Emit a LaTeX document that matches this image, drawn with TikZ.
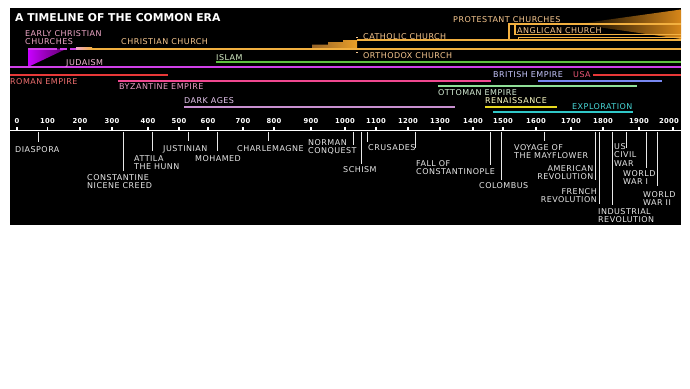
\documentclass[tikz,border=0pt]{standalone}
\usepackage{fontspec}
\setmainfont{DejaVu Sans}
\newfontfamily\labfont[LetterSpace=6]{DejaVu Sans}
\newfontfamily\axfont[LetterSpace=4]{DejaVu Sans}
\newfontfamily\ttlfont{DejaVu Sans}
\definecolor{chline}{HTML}{F2B040}
\definecolor{chtext}{HTML}{F8C890}
\definecolor{ecpink}{HTML}{F0A8C8}
\definecolor{judline}{HTML}{D040E8}
\definecolor{judtext}{HTML}{F8C0D8}
\definecolor{romline}{HTML}{E83838}
\definecolor{romtext}{HTML}{F07070}
\definecolor{byzline}{HTML}{F04890}
\definecolor{byztext}{HTML}{F0A0C8}
\definecolor{islline}{HTML}{60C040}
\definecolor{isltext}{HTML}{D8F0C8}
\definecolor{briline}{HTML}{7888F0}
\definecolor{britext}{HTML}{C8C8FF}
\definecolor{usatext}{HTML}{F05878}
\definecolor{ottline}{HTML}{90E098}
\definecolor{otttext}{HTML}{D8F0D8}
\definecolor{renline}{HTML}{E8D820}
\definecolor{rentext}{HTML}{FFFFC8}
\definecolor{expline}{HTML}{30C8C8}
\definecolor{exptext}{HTML}{48D8D8}
\definecolor{darkline}{HTML}{C890D0}
\definecolor{darktext}{HTML}{E8C8F0}
\definecolor{evtext}{HTML}{E8E8E8}
\tikzset{
  lab/.style={font=\labfont\fontsize{8}{8.5}\selectfont, inner sep=0pt, anchor=north west, align=left},
  evlab/.style={lab, text=evtext},
  evline/.style={draw=evtext, line width=0.9pt},
  tline/.style={line width=2pt},
  brline/.style={line width=1.4pt, draw=chline},
  axlab/.style={font=\axfont\bfseries\fontsize{6.8}{7}\selectfont, text=white, inner sep=0pt, anchor=north},
}
\begin{document}
\begin{tikzpicture}[x=1pt,y=-1pt]
\useasboundingbox (0,0) rectangle (690,388);
\fill[white] (0,0) rectangle (690,388);
\fill[black] (10,8) rectangle (681,225);

% title
\node[font=\ttlfont\bfseries\fontsize{10.8}{11}\selectfont, text=white, inner sep=0pt, anchor=north west] (title) at (15,13) {A TIMELINE OF THE COMMON ERA};

% ---- shaded shapes
\shade[left color={rgb,255:red,200;green,0;blue,255}, right color={rgb,255:red,90;green,0;blue,100}] (28,48.5) -- (28,67) -- (67,48.5) -- cycle;
\shade[left color={rgb,255:red,150;green,100;blue,40}, right color={rgb,255:red,235;green,160;blue,40}]
  (312,48.5) -- (312,44.5) -- (328,44.5) -- (328,42) -- (343,42) -- (343,40) -- (357,40) -- (357,48.5) -- cycle;
\shade[left color=black, right color={rgb,255:red,215;green,135;blue,25}] (577,24) -- (681,9.5) -- (681,39) -- cycle;

% ---- religion lines
\draw[tline, draw=judline] (28,48.5) -- (50,48.5);
\draw[tline, draw=judline, dash pattern=on 7pt off 3pt] (50,48.5) -- (76,48.5);
\shade[left color=ecpink, right color=chline] (76,47.5) rectangle (92,49.5);
\draw[tline, draw=chline] (92,48.5) -- (681,48.5);
\draw[tline, draw=chline] (357,40) -- (681,40);
\draw[brline] (509,40) -- (509,24) -- (681,24);
\draw[brline] (515,24) -- (515,34.3) -- (681,34.3);
\draw[brline] (518.5,40) -- (518.5,37.2) -- (681,37.2);
\fill[chtext] (356,36.5) rectangle (358,38);
\fill[chtext] (356,51.5) rectangle (358,53);
\draw[line width=1.6pt, draw=islline] (216,62) -- (681,62);
\draw[tline, draw=judline] (10,67) -- (681,67);

% ---- empire lines
\draw[tline, draw=romline] (10,75) -- (168,75);
\draw[tline, draw=romline] (593,75) -- (681,75);
\draw[tline, draw=byzline] (118,81) -- (491,81);
\draw[tline, draw=briline] (538,81) -- (662,81);
\draw[tline, draw=ottline] (438,86) -- (637,86);
\draw[tline, draw=renline] (485,106.5) -- (557,106.5);
\draw[tline, draw=darkline] (184,106.7) -- (455,106.7);
\draw[tline, draw=expline] (493,112) -- (633,112);

% ---- top labels
\node[lab, text=ecpink] (ecc) at (25,30) {EARLY CHRISTIAN\\CHURCHES};
\node[lab, text=chtext] (cc) at (121,38) {CHRISTIAN CHURCH};
\node[lab, text=judtext] (jud) at (66,59.5) {JUDAISM};
\node[lab, text=isltext] (isl) at (216,54) {ISLAM};
\node[lab, text=chtext] (cath) at (363,33) {CATHOLIC CHURCH};
\node[lab, text=chtext] (orth) at (363,52.5) {ORTHODOX CHURCH};
\node[lab, text=chtext] (prot) at (453,16) {PROTESTANT CHURCHES};
\node[lab, text=chtext] (angl) at (517,27) {ANGLICAN CHURCH};
\node[lab, text=romtext] (rom) at (10,78.3) {ROMAN EMPIRE};
\node[lab, text=byztext] (byz) at (119,83.5) {BYZANTINE EMPIRE};
\node[lab, text=britext] (bri) at (493,71.5) {BRITISH EMPIRE};
\node[lab, text=usatext] (usa) at (573,71.5) {USA};
\node[lab, text=otttext] (ott) at (438,89.3) {OTTOMAN EMPIRE};
\node[lab, text=rentext] (ren) at (485,97) {RENAISSANCE};
\node[lab, text=darktext] (dark) at (184,97.5) {DARK AGES};
\node[lab, text=exptext] (expl) at (572,103) {EXPLORATION};

% ---- axis
\coordinate (axL) at (10,130.7);
\coordinate (axR) at (681,130.7);
\draw[line width=1.5pt, draw=white] (axL) -- (axR);
\foreach \yr/\x/\lx in {0/17/17,100/47.5/47.5,200/80/80,300/112/112,400/148/148,500/179/179,600/208/208,700/243/243,800/274/274,900/311/311,1000/345/345,1100/376/376,1200/408/408,1300/440/440,1400/473/473,1500/503/503,1600/536/536,1700/571/571,1800/603/603,1900/639/639,2000/673/669}{
  \coordinate (tk\yr) at (\x,130.7);
  \draw[line width=1.5pt, draw=white] (tk\yr) -- ++(0,-3.5);
  \node[axlab] (yl\yr) at (\lx,118) {\yr};
}

% ---- event callouts
\foreach \nm/\x/\yb in {dia/38.7/142, con/123/171, att/152/151, jus/188/141, moh/217/151, cha/268/141, nor/353/145, sch/361/164, crA/367/142, crB/415/148, fal/490.5/165, col/501/180, may/544/141, ame/595.5/180, fre/599/204, ind/612/205, civ/626/148, wwa/646/168, wwb/657/186}{
  \coordinate (\nm-top) at (\x,131.5);
  \coordinate (\nm-end) at (\x,\yb);
  \draw[evline] (\nm-top) -- (\nm-end);
}
\node[evlab] (ldia) at (15,146) {DIASPORA};
\node[evlab] (lcon) at (87,174) {CONSTANTINE\\NICENE CREED};
\node[evlab] (latt) at (134,155) {ATTILA\\THE HUNN};
\node[evlab] (ljus) at (163,145) {JUSTINIAN};
\node[evlab] (lmoh) at (195,155) {MOHAMED};
\node[evlab] (lcha) at (237,145) {CHARLEMAGNE};
\node[evlab] (lnor) at (308,139) {NORMAN\\CONQUEST};
\node[evlab] (lsch) at (343,166) {SCHISM};
\node[evlab] (lcru) at (368,144) {CRUSADES};
\node[evlab] (lfal) at (416,160) {FALL OF\\CONSTANTINOPLE};
\node[evlab] (lcol) at (479,182) {COLOMBUS};
\node[evlab] (lmay) at (514,144) {VOYAGE OF\\THE MAYFLOWER};
\node[evlab, align=right, anchor=north east] (lame) at (593.5,165) {AMERICAN\\REVOLUTION};
\node[evlab, align=right, anchor=north east] (lfre) at (597,188) {FRENCH\\REVOLUTION};
\node[evlab] (lind) at (598,208) {INDUSTRIAL\\REVOLUTION};
\node[evlab] (lciv) at (614,143) {US\\CIVIL\\WAR};
\node[evlab] (lwwa) at (623,170) {WORLD\\WAR I};
\node[evlab] (lwwb) at (643,191) {WORLD\\WAR II};
\end{tikzpicture}
\end{document}
